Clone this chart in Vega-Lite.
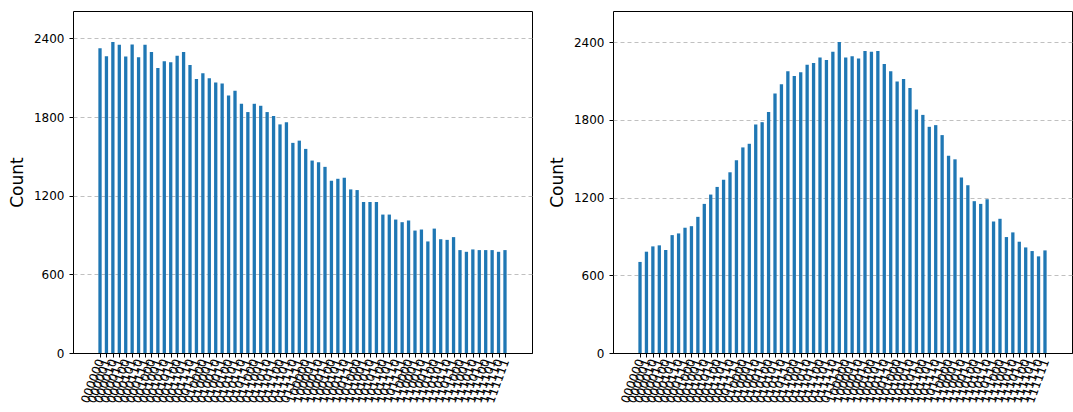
{
  "$schema": "https://vega.github.io/schema/vega-lite/v6.json",
  "padding": {"left": 7, "top": 10, "right": 0, "bottom": 0},
  "spacing": 14,
  "config": {
    "font": "DejaVu Sans",
    "view": {"stroke": "black", "strokeWidth": 1},
    "axis": {"labelFont": "DejaVu Sans", "titleFont": "DejaVu Sans", "labelColor": "#000000", "titleColor": "#000000", "tickColor": "#000000", "domainColor": "#000000"}
  },
  "datasets": {
    "left": [
      {"idx": 0, "state": "000000", "count": 2324}, {"idx": 1, "state": "000001", "count": 2263}, {"idx": 2, "state": "000010", "count": 2372}, {"idx": 3, "state": "000011", "count": 2352},
      {"idx": 4, "state": "000100", "count": 2261}, {"idx": 5, "state": "000101", "count": 2354}, {"idx": 6, "state": "000110", "count": 2256}, {"idx": 7, "state": "000111", "count": 2352},
      {"idx": 8, "state": "001000", "count": 2296}, {"idx": 9, "state": "001001", "count": 2175}, {"idx": 10, "state": "001010", "count": 2225}, {"idx": 11, "state": "001011", "count": 2218},
      {"idx": 12, "state": "001100", "count": 2268}, {"idx": 13, "state": "001101", "count": 2296}, {"idx": 14, "state": "001110", "count": 2198}, {"idx": 15, "state": "001111", "count": 2091},
      {"idx": 16, "state": "010000", "count": 2134}, {"idx": 17, "state": "010001", "count": 2096}, {"idx": 18, "state": "010010", "count": 2063}, {"idx": 19, "state": "010011", "count": 2056},
      {"idx": 20, "state": "010100", "count": 1965}, {"idx": 21, "state": "010101", "count": 2000}, {"idx": 22, "state": "010110", "count": 1901}, {"idx": 23, "state": "010111", "count": 1838},
      {"idx": 24, "state": "011000", "count": 1901}, {"idx": 25, "state": "011001", "count": 1886}, {"idx": 26, "state": "011010", "count": 1838}, {"idx": 27, "state": "011011", "count": 1808},
      {"idx": 28, "state": "011100", "count": 1744}, {"idx": 29, "state": "011101", "count": 1760}, {"idx": 30, "state": "011110", "count": 1603}, {"idx": 31, "state": "011111", "count": 1620},
      {"idx": 32, "state": "100000", "count": 1557}, {"idx": 33, "state": "100001", "count": 1468}, {"idx": 34, "state": "100010", "count": 1456}, {"idx": 35, "state": "100011", "count": 1420},
      {"idx": 36, "state": "100100", "count": 1314}, {"idx": 37, "state": "100101", "count": 1329}, {"idx": 38, "state": "100110", "count": 1337}, {"idx": 39, "state": "100111", "count": 1248},
      {"idx": 40, "state": "101000", "count": 1243}, {"idx": 41, "state": "101001", "count": 1152}, {"idx": 42, "state": "101010", "count": 1152}, {"idx": 43, "state": "101011", "count": 1152},
      {"idx": 44, "state": "101100", "count": 1056}, {"idx": 45, "state": "101101", "count": 1056}, {"idx": 46, "state": "101110", "count": 1018}, {"idx": 47, "state": "101111", "count": 998},
      {"idx": 48, "state": "110000", "count": 1010}, {"idx": 49, "state": "110001", "count": 934}, {"idx": 50, "state": "110010", "count": 942}, {"idx": 51, "state": "110011", "count": 851},
      {"idx": 52, "state": "110100", "count": 949}, {"idx": 53, "state": "110101", "count": 868}, {"idx": 54, "state": "110110", "count": 863}, {"idx": 55, "state": "110111", "count": 884},
      {"idx": 56, "state": "111000", "count": 785}, {"idx": 57, "state": "111001", "count": 772}, {"idx": 58, "state": "111010", "count": 790}, {"idx": 59, "state": "111011", "count": 785},
      {"idx": 60, "state": "111100", "count": 785}, {"idx": 61, "state": "111101", "count": 785}, {"idx": 62, "state": "111110", "count": 772}, {"idx": 63, "state": "111111", "count": 785}
    ],
    "right": [
      {"idx": 0, "state": "000000", "count": 703}, {"idx": 1, "state": "000001", "count": 782}, {"idx": 2, "state": "000010", "count": 823}, {"idx": 3, "state": "000011", "count": 831},
      {"idx": 4, "state": "000100", "count": 795}, {"idx": 5, "state": "000101", "count": 910}, {"idx": 6, "state": "000110", "count": 923}, {"idx": 7, "state": "000111", "count": 967},
      {"idx": 8, "state": "001000", "count": 979}, {"idx": 9, "state": "001001", "count": 1051}, {"idx": 10, "state": "001010", "count": 1151}, {"idx": 11, "state": "001011", "count": 1223},
      {"idx": 12, "state": "001100", "count": 1282}, {"idx": 13, "state": "001101", "count": 1338}, {"idx": 14, "state": "001110", "count": 1395}, {"idx": 15, "state": "001111", "count": 1487},
      {"idx": 16, "state": "010000", "count": 1587}, {"idx": 17, "state": "010001", "count": 1615}, {"idx": 18, "state": "010010", "count": 1764}, {"idx": 19, "state": "010011", "count": 1782},
      {"idx": 20, "state": "010100", "count": 1861}, {"idx": 21, "state": "010101", "count": 2003}, {"idx": 22, "state": "010110", "count": 2074}, {"idx": 23, "state": "010111", "count": 2174},
      {"idx": 24, "state": "011000", "count": 2138}, {"idx": 25, "state": "011001", "count": 2167}, {"idx": 26, "state": "011010", "count": 2226}, {"idx": 27, "state": "011011", "count": 2238},
      {"idx": 28, "state": "011100", "count": 2282}, {"idx": 29, "state": "011101", "count": 2262}, {"idx": 30, "state": "011110", "count": 2326}, {"idx": 31, "state": "011111", "count": 2400},
      {"idx": 32, "state": "100000", "count": 2282}, {"idx": 33, "state": "100001", "count": 2290}, {"idx": 34, "state": "100010", "count": 2274}, {"idx": 35, "state": "100011", "count": 2331},
      {"idx": 36, "state": "100100", "count": 2326}, {"idx": 37, "state": "100101", "count": 2331}, {"idx": 38, "state": "100110", "count": 2231}, {"idx": 39, "state": "100111", "count": 2174},
      {"idx": 40, "state": "101000", "count": 2095}, {"idx": 41, "state": "101001", "count": 2115}, {"idx": 42, "state": "101010", "count": 2046}, {"idx": 43, "state": "101011", "count": 1879},
      {"idx": 44, "state": "101100", "count": 1838}, {"idx": 45, "state": "101101", "count": 1746}, {"idx": 46, "state": "101110", "count": 1759}, {"idx": 47, "state": "101111", "count": 1682},
      {"idx": 48, "state": "110000", "count": 1523}, {"idx": 49, "state": "110001", "count": 1495}, {"idx": 50, "state": "110010", "count": 1354}, {"idx": 51, "state": "110011", "count": 1295},
      {"idx": 52, "state": "110100", "count": 1172}, {"idx": 53, "state": "110101", "count": 1151}, {"idx": 54, "state": "110110", "count": 1187}, {"idx": 55, "state": "110111", "count": 1015},
      {"idx": 56, "state": "111000", "count": 1036}, {"idx": 57, "state": "111001", "count": 895}, {"idx": 58, "state": "111010", "count": 931}, {"idx": 59, "state": "111011", "count": 859},
      {"idx": 60, "state": "111100", "count": 815}, {"idx": 61, "state": "111101", "count": 787}, {"idx": 62, "state": "111110", "count": 746}, {"idx": 63, "state": "111111", "count": 792}
    ]
  },
  "hconcat": [
    {
      "width": 459,
      "height": 342,
      "data": {"name": "left"},
      "mark": {"type": "bar", "color": "#1f77b4", "width": 3.3},
      "encoding": {
        "x": {
          "field": "idx", "type": "quantitative",
          "scale": {"domain": [-3.425, 66.425], "nice": false, "zero": false},
          "axis": {"title": null, "values": [0,1,2,3,4,5,6,7,8,9,10,11,12,13,14,15,16,17,18,19,20,21,22,23,24,25,26,27,28,29,30,31,32,33,34,35,36,37,38,39,40,41,42,43,44,45,46,47,48,49,50,51,52,53,54,55,56,57,58,59,60,61,62,63], "labelExpr": "format(datum.value, '06b')", "labelAngle": -70, "labelFontSize": 12, "labelOverlap": false, "labelBound": false, "labelFlush": false, "tickSize": 4, "labelPadding": 2, "domain": true, "domainColor": "#000000", "domainWidth": 1, "grid": false}
        },
        "y": {
          "field": "count", "type": "quantitative",
          "scale": {"domain": [0, 2609], "nice": false},
          "axis": {"values": [0, 600, 1200, 1800, 2400], "format": "d", "title": "Count", "titleFontSize": 17, "titleFontWeight": "normal", "titlePadding": 7, "labelFontSize": 12, "labelPadding": 5, "tickSize": 4, "domain": false, "grid": true, "gridDash": [4, 3], "gridColor": "#b0b0b0", "gridWidth": 0.8, "gridOpacity": {"condition": {"test": "datum.value === 0", "value": 0}, "value": 1}}
        }
      }
    },
    {
      "width": 459,
      "height": 342,
      "data": {"name": "right"},
      "mark": {"type": "bar", "color": "#1f77b4", "width": 3.3},
      "encoding": {
        "x": {
          "field": "idx", "type": "quantitative",
          "scale": {"domain": [-3.425, 66.425], "nice": false, "zero": false},
          "axis": {"title": null, "values": [0,1,2,3,4,5,6,7,8,9,10,11,12,13,14,15,16,17,18,19,20,21,22,23,24,25,26,27,28,29,30,31,32,33,34,35,36,37,38,39,40,41,42,43,44,45,46,47,48,49,50,51,52,53,54,55,56,57,58,59,60,61,62,63], "labelExpr": "format(datum.value, '06b')", "labelAngle": -70, "labelFontSize": 12, "labelOverlap": false, "labelBound": false, "labelFlush": false, "tickSize": 4, "labelPadding": 2, "domain": true, "domainColor": "#000000", "domainWidth": 1, "grid": false}
        },
        "y": {
          "field": "count", "type": "quantitative",
          "scale": {"domain": [0, 2640], "nice": false},
          "axis": {"values": [0, 600, 1200, 1800, 2400], "format": "d", "title": "Count", "titleFontSize": 17, "titleFontWeight": "normal", "titlePadding": 7, "labelFontSize": 12, "labelPadding": 5, "tickSize": 4, "domain": false, "grid": true, "gridDash": [4, 3], "gridColor": "#b0b0b0", "gridWidth": 0.8, "gridOpacity": {"condition": {"test": "datum.value === 0", "value": 0}, "value": 1}}
        }
      }
    }
  ]
}
